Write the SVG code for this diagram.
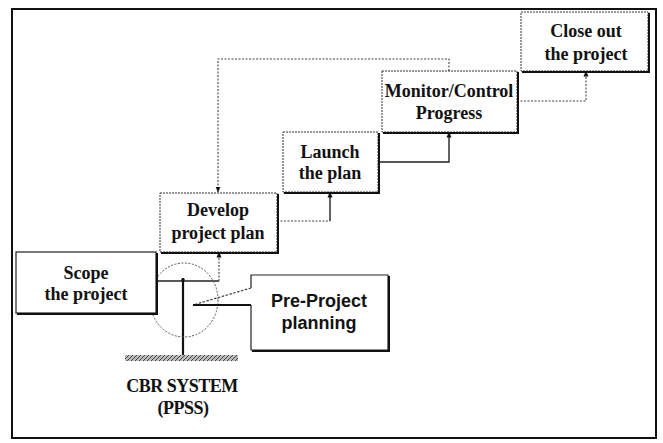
<svg xmlns="http://www.w3.org/2000/svg" width="663" height="443" viewBox="0 0 663 443">
<style>
.box{fill:#fff;stroke:#333;stroke-width:1;stroke-dasharray:2 1}
.boxs{fill:#fff;stroke:#222;stroke-width:1.2}
.shadow{fill:none;stroke:#111;stroke-width:2}
.t{font-family:"Liberation Serif","Times New Roman",serif;font-weight:bold;font-size:18px;fill:#111;text-anchor:middle}
.ts{font-family:"Liberation Sans",Arial,sans-serif;font-weight:bold;font-size:18px;fill:#111;text-anchor:middle}
.dot{fill:none;stroke:#444;stroke-width:1.1;stroke-dasharray:2 1.5}
.sol{fill:none;stroke:#222;stroke-width:1.4}
</style>
<defs>
<marker id="ah" viewBox="0 0 6 6" refX="5.5" refY="3" markerWidth="6" markerHeight="6" orient="auto" markerUnits="userSpaceOnUse">
<path d="M0,0.5 L6,3 L0,5.5 z" fill="#111"/>
</marker>
<pattern id="hatch" width="4" height="4" patternUnits="userSpaceOnUse">
<rect width="4" height="4" fill="#bbb"/>
<path d="M0,4 L4,0" stroke="#444" stroke-width="1"/>
</pattern>
</defs>
<rect x="12" y="9" width="644" height="429" fill="#fff" stroke="#111" stroke-width="2"/>

<g id="connectors">
<path class="sol" d="M156,281 H219"/>
<path class="dot" d="M219,281 V252" marker-end="url(#ah)"/>
<path class="dot" d="M277,221 H330"/>
<path class="sol" d="M330,221 V192" marker-end="url(#ah)"/>
<path class="sol" d="M378,162 H449 V132" marker-end="url(#ah)"/>
<path class="dot" d="M517,101 H586 V71" marker-end="url(#ah)"/>
<path class="dot" d="M449,71 V59 H218 V192" marker-end="url(#ah)"/>
<path d="M183,361 V278" stroke="#111" stroke-width="2.2" fill="none"/>
<circle cx="183" cy="280" r="1.8" fill="#111"/>
</g>

<g id="circle">
<ellipse cx="184" cy="300" rx="34" ry="37" fill="none" stroke="#555" stroke-width="1" stroke-dasharray="2 1.5"/>
</g>

<g id="scope">
<rect class="boxs" x="16" y="252" width="140" height="61"/>
<path class="shadow" d="M157,253 V314 H17"/>
<text class="t" x="86" y="279">Scope</text>
<text class="t" x="86" y="300">the project</text>
</g>

<g id="develop">
<rect class="box" x="160" y="193" width="117" height="59"/>
<path class="shadow" d="M278,194 V253 H161"/>
<text class="t" x="218" y="216">Develop</text>
<text class="t" x="218" y="239">project plan</text>
</g>

<g id="launch">
<rect class="box" x="283" y="132" width="95" height="60"/>
<path class="shadow" d="M379,133 V193 H284"/>
<text class="t" x="330" y="158">Launch</text>
<text class="t" x="330" y="179">the plan</text>
</g>

<g id="monitor">
<rect class="box" x="382" y="71" width="135" height="61"/>
<path class="shadow" d="M518,72 V133 H383"/>
<text class="t" x="449" y="97">Monitor/Control</text>
<text class="t" x="449" y="119">Progress</text>
</g>

<g id="close">
<rect class="box" x="521" y="12" width="127" height="59"/>
<path class="shadow" d="M649,13 V72 H522"/>
<text class="t" x="586" y="37">Close out</text>
<text class="t" x="586" y="60">the project</text>
</g>

<g id="preproject">
<path d="M251,288 V275 H388 V350 H251 V305" fill="#fff" stroke="#222" stroke-width="1.2"/>
<path class="shadow" d="M389,276 V351 H252"/>
<path d="M251,288 L193,305" fill="none" stroke="#333" stroke-width="1.1" stroke-dasharray="2.5 1.5"/>
<path d="M193,305 L251,305" fill="none" stroke="#111" stroke-width="2"/>
<text class="ts" x="319" y="307">Pre-Project</text>
<text class="ts" x="319" y="329">planning</text>
</g>

<g id="cbr">
<rect x="125" y="355" width="113" height="6" fill="url(#hatch)"/>
<text class="t" x="182" y="392" font-size="17" letter-spacing="-0.5">CBR SYSTEM</text>
<text class="t" x="183" y="414" font-size="17" letter-spacing="-0.5">(PPSS)</text>
</g>
</svg>
